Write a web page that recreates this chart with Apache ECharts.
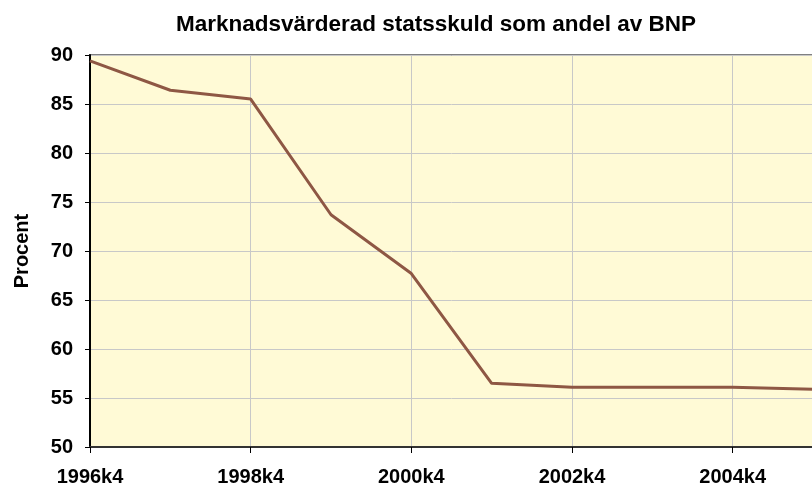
<!DOCTYPE html>
<html>
<head>
<meta charset="utf-8">
<script src="https://cdn.jsdelivr.net/npm/echarts@6/dist/echarts.min.js"></script>
<style>
  html, body { margin: 0; padding: 0; background: #fff; overflow: hidden; }
  #chart { width: 814px; height: 492px; }
</style>
</head>
<body>
<div id="chart"></div>
<script>
// kvartal (årets fjärde kvartal)
const quarters = ['1996k4', '1997k4', '1998k4', '1999k4', '2000k4', '2001k4', '2002k4', '2003k4', '2004k4', '2005k4'];
// statsskuld i procent av BNP
const debtShare = [89.4, 86.4, 85.5, 73.7, 67.7, 56.5, 56.1, 56.1, 56.1, 55.9];
const yTicks = [50, 55, 60, 65, 70, 75, 80, 85, 90];

const chart = echarts.init(document.getElementById('chart'));
const font = 'Liberation Sans, Arial, sans-serif';

chart.setOption({
  animation: false,
  title: {
    text: 'Marknadsvärderad statsskuld som andel av BNP',
    left: 431,
    textAlign: 'center',
    top: 8,
    textStyle: { fontFamily: font, fontWeight: 'bold', fontSize: 22.5, color: '#000' }
  },
  grid: {
    left: 90, right: 1, top: 55, bottom: 45,
    show: true,
    backgroundColor: '#FFFAD6',
    borderColor: '#808080',
    borderWidth: 2
  },
  xAxis: {
    type: 'category',
    data: quarters,
    boundaryGap: false,
    axisLine: { lineStyle: { color: '#333', width: 2 } },
    axisTick: { interval: 1, length: 6, lineStyle: { color: '#000' } },
    splitLine: { show: true, interval: 1, lineStyle: { color: '#C8C8C8', width: 1 } },
    axisLabel: {
      interval: 1, margin: 20,
      fontFamily: font, fontWeight: 'bold', fontSize: 20, color: '#000'
    }
  },
  yAxis: {
    type: 'value',
    min: yTicks[0],
    max: yTicks[yTicks.length - 1],
    interval: 5,
    name: 'Procent',
    nameLocation: 'middle',
    nameGap: 58,
    nameRotate: 90,
    nameTextStyle: { fontFamily: font, fontWeight: 'bold', fontSize: 20, color: '#000' },
    axisLine: { show: true, lineStyle: { color: '#000', width: 2 } },
    axisTick: { show: true, length: 5, lineStyle: { color: '#000' } },
    splitLine: { lineStyle: { color: '#C8C8C8', width: 1 } },
    axisLabel: { margin: 17, fontFamily: font, fontWeight: 'bold', fontSize: 20, color: '#000' }
  },
  series: [{
    type: 'line',
    data: debtShare,
    symbol: 'none',
    lineStyle: { color: '#8E5744', width: 3 }
  }]
});
</script>
</body>
</html>
